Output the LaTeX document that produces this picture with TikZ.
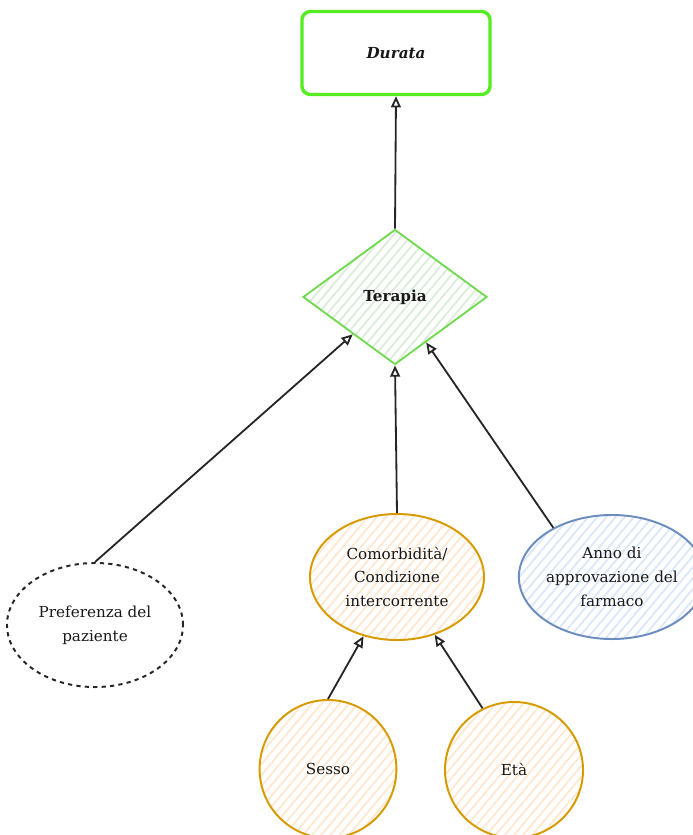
\documentclass[tikz,border=0pt]{standalone}
\usepackage{fontspec}
\setmainfont{DejaVu Serif}
\usetikzlibrary{shapes.geometric,arrows.meta,patterns.meta}

\definecolor{durgreen}{HTML}{55EC22}
\definecolor{tergreen}{HTML}{6FDA4E}
\definecolor{terfill}{HTML}{DCEDDB}
\definecolor{orline}{HTML}{D79B00}
\definecolor{orfill}{HTML}{FFE8D2}
\definecolor{blline}{HTML}{6C8EBF}
\definecolor{blfill}{HTML}{DCE8FA}

\begin{document}
\begin{tikzpicture}[x=0.025cm, y=-0.025cm,
    every node/.style={font=\fontsize{10.8}{17}\selectfont, text=black!90, align=center},
    hatch/.style={preaction={fill=white}, pattern={Lines[angle=50,distance=5pt,line width=1.3pt]}, pattern color=#1},
    blob/.style={ellipse, inner sep=0pt, line width=1.4pt},
    link/.style={-{Triangle[open,length=8pt,width=7pt]}, line width=1.3pt, draw=black!85}]
    \useasboundingbox (0,0) rectangle (692,835);

    % outcome
    \node [draw=durgreen, line width=2.4pt, rounded corners=6pt, minimum width=4.7cm, minimum height=2.075cm,
           font=\fontsize{10.8}{17}\selectfont\bfseries\itshape] (durata) at (396,53) {Durata};

    % treatment
    \node [diamond, draw=tergreen, line width=1.3pt, hatch=terfill, inner sep=0pt,
           minimum width=4.6cm, minimum height=3.375cm,
           font=\fontsize{10.8}{17}\selectfont\bfseries] (terapia) at (395,297) {Terapia};

    % causes of the treatment
    \node [blob, draw=black!85, dashed, minimum width=4.4cm, minimum height=3.1cm] (pref) at (95,625)
        {Preferenza del\\paziente};
    \node [blob, draw=orline, hatch=orfill, minimum width=4.35cm, minimum height=3.15cm] (comorb) at (397,577)
        {Comorbidità/\\Condizione\\intercorrente};
    \node [blob, draw=blline, hatch=blfill, minimum width=4.2cm, minimum height=3.1cm] (anno) at (612,577)
        {Anno di\\approvazione del\\farmaco};

    % causes of the comorbidity
    \node [blob, draw=orline, hatch=orfill, minimum width=3.42cm, minimum height=3.45cm] (sesso) at (328,769) {Sesso};
    \node [blob, draw=orline, hatch=orfill, minimum width=3.45cm, minimum height=3.4cm] (eta) at (514,770) {Età};

    \draw [link] (terapia.north) -- (durata.south);
    \draw [link] (pref.north) -- (terapia);
    \draw [link] (comorb.north) -- (terapia.south);
    \draw [link] (anno.140) -- (terapia);
    \draw [link] (sesso.north) -- (comorb);
    \draw [link] (eta.117) -- (comorb);
\end{tikzpicture}
\end{document}
